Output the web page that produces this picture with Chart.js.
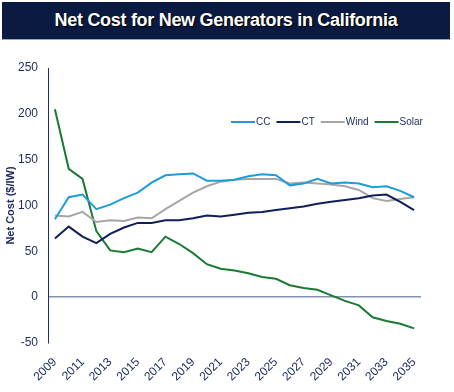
<!DOCTYPE html>
<html>
<head>
<meta charset="utf-8">
<script src="https://cdn.jsdelivr.net/npm/chart.js@4.4.0/dist/chart.umd.min.js"></script>
<style>
  html, body { margin: 0; padding: 0; background: #ffffff; }
  #wrap { position: relative; width: 454px; height: 392px; overflow: hidden; }
  #titleBar {
    position: absolute; left: 2px; top: 2px; width: 448px; height: 37px;
    background: #0b1a40; border-bottom: 1px solid #9aa6bd;
    color: #ffffff; font: bold 18px "Liberation Sans", Arial, sans-serif;
    text-align: center; line-height: 37px; letter-spacing: -0.3px;
    text-shadow: 1px 1px 1px #000000;
  }
  #costChart { position: absolute; left: 0; top: 0; }
</style>
</head>
<body>
<div id="wrap">
  <canvas id="costChart" width="454" height="392"></canvas>
  <div id="titleBar">Net Cost for New Generators in California</div>
</div>
<script>
const years = ['2009', '2010', '2011', '2012', '2013', '2014', '2015', '2016', '2017', '2018',
    '2019', '2020', '2021', '2022', '2023', '2024', '2025', '2026', '2027', '2028',
    '2029', '2030', '2031', '2032', '2033', '2034', '2035'];

const ccCost = [85, 109, 112, 96, 101, 108, 114, 125, 133, 134,
    135, 127, 127, 128, 132, 134, 133, 122, 124, 129,
    124, 125, 124, 120, 121, 116, 109];

const ctCost = [64, 77, 66, 59, 69, 76, 81, 81, 84, 84,
    86, 89, 88, 90, 92, 93, 95, 97, 99, 102,
    104, 106, 108, 111, 112, 104, 95];

const windCost = [89, 88, 93, 82, 84, 83, 87, 86, 96, 105,
    114, 121, 126, 128, 129, 129, 129, 124, 125, 124,
    123, 121, 117, 108, 105, 107, 109];

const solarCost = [205, 140, 129, 72, 51, 49, 53, 49, 66, 58,
    48, 36, 31, 29, 26, 22, 20, 13, 10, 8,
    2, -4, -9, -22, -26, -29, -34];

const yTicks = [-50, 0, 50, 100, 150, 200, 250];

const navy = '#1b2a5c';

// legend drawn inside the plot, top right
const insideLegend = {
    id: 'insideLegend',
    afterDraw(chart) {
        const ctx = chart.ctx;
        ctx.save();
        ctx.font = '10px "Liberation Sans", Arial, sans-serif';
        ctx.textBaseline = 'middle';
        let x = 231;
        const y = 122;
        chart.data.datasets.forEach(ds => {
            ctx.strokeStyle = ds.borderColor;
            ctx.lineWidth = 2;
            ctx.beginPath();
            ctx.moveTo(x, y);
            ctx.lineTo(x + 24, y);
            ctx.stroke();
            ctx.fillStyle = navy;
            ctx.fillText(ds.label, x + 25, y);
            x += 25 + ctx.measureText(ds.label).width + 6;
        });
        ctx.restore();
    }
};

const ctx = document.getElementById('costChart').getContext('2d');
new Chart(ctx, {
    type: 'line',
    data: {
        labels: years,
        datasets: [
            { label: 'CC', data: ccCost, borderColor: '#1e9cd8' },
            { label: 'CT', data: ctCost, borderColor: '#0e1f5c' },
            { label: 'Wind', data: windCost, borderColor: '#a6a6a6' },
            { label: 'Solar', data: solarCost, borderColor: '#1b7a32' }
        ]
    },
    options: {
        responsive: false,
        animation: false,
        elements: {
            line: { borderWidth: 2, tension: 0, fill: false },
            point: { radius: 0 }
        },
        layout: { padding: { top: 68, right: 33, left: 0, bottom: 0 } },
        plugins: {
            legend: { display: false },
            tooltip: { enabled: false }
        },
        scales: {
            x: {
                offset: true,
                grid: { display: false },
                border: { display: false },
                ticks: {
                    autoSkip: false,
                    minRotation: 45,
                    maxRotation: 45,
                    padding: 4,
                    color: navy,
                    font: { family: '"Liberation Sans", Arial, sans-serif', size: 12 },
                    callback: function(value, index) {
                        return index % 2 === 0 ? years[index] : '';
                    }
                },
                afterFit: scale => { scale.height = 49; }
            },
            y: {
                min: -50,
                max: 250,
                afterBuildTicks: scale => { scale.ticks = yTicks.map(v => ({ value: v })); },
                grid: {
                    drawTicks: false,
                    lineWidth: 1.5,
                    color: c => c.tick && c.tick.value === 0 ? '#8292aa' : 'rgba(0,0,0,0)'
                },
                border: { color: '#1f2f62', width: 1 },
                ticks: {
                    padding: 10,
                    color: navy,
                    font: { family: '"Liberation Sans", Arial, sans-serif', size: 12 }
                },
                title: {
                    display: true,
                    text: 'Net Cost ($/IW)',
                    color: navy,
                    padding: { top: 4, bottom: 0 },
                    font: { family: '"Liberation Sans", Arial, sans-serif', size: 11, weight: 'bold' }
                },
                afterFit: scale => { scale.width = 48; }
            }
        }
    },
    plugins: [insideLegend]
});
</script>
</body>
</html>
